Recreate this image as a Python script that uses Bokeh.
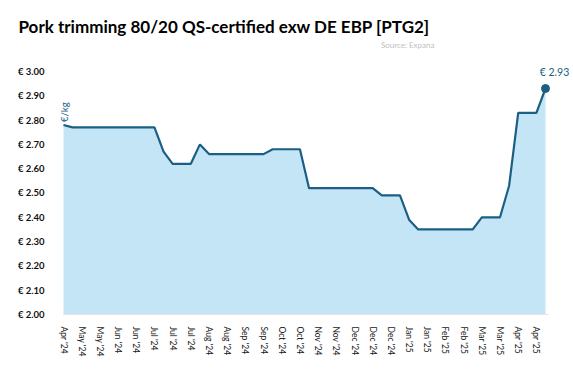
from bokeh.plotting import figure
from bokeh.models import FixedTicker, Label, ColumnDataSource
from bokeh.embed import file_html
from bokeh.resources import INLINE

title_text = "Pork trimming 80/20 QS-certified exw DE EBP [PTG2]"
source_text = "Source: Expana"
unit_text = "€/kg"

week_labels = ["Apr '24", "May '24", "May '24", "Jun '24", "Jun '24", "Jul '24",
               "Jul '24", "Jul '24", "Aug '24", "Aug '24", "Sep '24", "Sep '24",
               "Oct '24", "Oct '24", "Nov '24", "Nov '24", "Dec '24", "Dec '24",
               "Dec '24", "Jan '25", "Jan '25", "Feb '25", "Feb '25", "Mar '25",
               "Mar '25", "Apr '25", "Apr '25"]

prices = [2.78,
          2.77, 2.77, 2.77, 2.77, 2.77, 2.77, 2.77, 2.77, 2.77, 2.77,
          2.67,
          2.62, 2.62, 2.62,
          2.70,
          2.66, 2.66, 2.66, 2.66, 2.66, 2.66, 2.66,
          2.68, 2.68, 2.68, 2.68,
          2.52, 2.52, 2.52, 2.52, 2.52, 2.52, 2.52, 2.52,
          2.49, 2.49, 2.49,
          2.39,
          2.35, 2.35, 2.35, 2.35, 2.35, 2.35, 2.35,
          2.40, 2.40, 2.40,
          2.53,
          2.83, 2.83, 2.83,
          2.93]

y_ticks = [2.0, 2.1, 2.2, 2.3, 2.4, 2.5, 2.6, 2.7, 2.8, 2.9, 3.0]
y_tick_labels = ["€ 2.00", "€ 2.10", "€ 2.20", "€ 2.30", "€ 2.40", "€ 2.50",
                 "€ 2.60", "€ 2.70", "€ 2.80", "€ 2.90", "€ 3.00"]

weeks = list(range(len(prices)))
label_weeks = weeks[::2]
baseline = y_ticks[0]

LINE = "#1b5f84"
FILL = "#c4e5f5"

src = ColumnDataSource(dict(x=weeks, y=prices, base=[baseline] * len(prices)))

# frame extended past the data so that annotations are not clipped
p = figure(width=573, height=373, output_backend="svg", toolbar_location=None,
           x_range=(-0.77, 55.97), y_range=(2.0, 3.144),
           min_border_left=56, min_border_right=1, min_border_bottom=59,
           min_border_top=36)

p.title.text = title_text
p.title.text_font = "Lato"
p.title.text_font_style = "bold"
p.title.text_font_size = "17px"
p.title.text_color = "#000000"
p.title.align = "left"
p.title.offset = -38
p.title.standoff = 0

p.varea(x="x", y1="base", y2="y", source=src, fill_color=FILL)
p.line(x="x", y="y", source=src, line_color=LINE, line_width=2.2)
p.scatter(x=[weeks[-1]], y=[prices[-1]], size=8, fill_color=LINE, line_color=LINE)

p.xgrid.visible = False
p.ygrid.visible = False
p.outline_line_color = None

p.yaxis.ticker = FixedTicker(ticks=y_ticks)
p.yaxis.major_label_overrides = {t: l for t, l in zip(y_ticks, y_tick_labels)}
p.yaxis.axis_line_color = None
p.yaxis.major_tick_line_color = None
p.yaxis.minor_tick_line_color = None
p.yaxis.major_label_standoff = 6
p.yaxis.major_label_text_font = "Lato"
p.yaxis.major_label_text_font_style = "bold"
p.yaxis.major_label_text_font_size = "9.5px"
p.yaxis.major_label_text_color = "#111111"

p.xaxis.ticker = FixedTicker(ticks=label_weeks)
p.xaxis.bounds = (0, weeks[-1] + 0.3)
p.xaxis.major_label_overrides = {w: l for w, l in zip(label_weeks, week_labels)}
p.xaxis.major_label_orientation = "vertical"
p.xaxis.axis_line_color = "#e6e6e6"
p.xaxis.major_tick_line_color = None
p.xaxis.minor_tick_line_color = None
p.xaxis.major_label_standoff = 6
p.xaxis.major_label_text_font = "Lato"
p.xaxis.major_label_text_font_size = "8.5px"
p.xaxis.major_label_text_color = "#222222"

p.add_layout(Label(x=weeks[-1], y=prices[-1], x_offset=9, y_offset=17,
                   text="€ " + f"{prices[-1]:.2f}", text_font="Lato",
                   text_font_size="10.5px", text_color=LINE,
                   text_align="center", text_baseline="middle"))

p.add_layout(Label(x=weeks[0], y=prices[0], x_offset=6, y_offset=3,
                   text=unit_text, angle=1.5708, text_font="Lato",
                   text_font_size="9.5px", text_color=LINE,
                   text_align="left", text_baseline="bottom"))

p.add_layout(Label(x=weeks[-1], y=y_ticks[-1], x_offset=-111, y_offset=26,
                   text=source_text, text_font="Lato",
                   text_font_size="8px", text_color="#c0c0c0",
                   text_align="right", text_baseline="middle"))

open("out.html", "w").write(file_html(p, INLINE))
